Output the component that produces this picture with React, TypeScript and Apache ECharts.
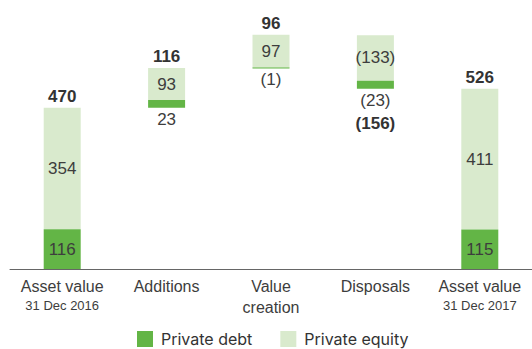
import React, { useEffect, useRef } from "react";
import * as echarts from "echarts";

const categoryNames = ["Asset value", "Additions", "Value\ncreation", "Disposals", "Asset value"];
const categoryDates = ["31 Dec 2016", "", "", "", "31 Dec 2017"];
const isTotalBar = [true, false, false, false, true];
const privateDebt = [116, 23, -1, -23, 115];
const privateEquity = [354, 93, 97, -133, 411];
const netTotals = [470, 116, 96, -156, 526];

const DARK = "#63b546";
const LIGHT = "#d9eacd";
const TEXT = "#3d3d3d";
const FONT = "Liberation Sans";

const fmt = (v: number) => (v < 0 ? `(${Math.abs(v)})` : `${v}`);

export default function App() {
  const ref = useRef<HTMLDivElement>(null);
  useEffect(() => {
    if (!ref.current) return;
    document.body.style.margin = "0";
    const chart = echarts.init(ref.current, undefined, { renderer: "svg" });

    const base: number[] = [];
    const tops: number[] = [];
    const bottoms: number[] = [];
    let running = 0;
    categoryNames.forEach((_, i) => {
      if (isTotalBar[i]) {
        base.push(0);
        bottoms.push(0);
        tops.push(netTotals[i]);
        running = netTotals[i];
      } else {
        const neg = Math.min(0, privateDebt[i]) + Math.min(0, privateEquity[i]);
        const pos = Math.max(0, privateDebt[i]) + Math.max(0, privateEquity[i]);
        base.push(running + neg);
        bottoms.push(running + neg);
        tops.push(running + pos);
        running += netTotals[i];
      }
    });

    const annotations: any[] = [];
    categoryNames.forEach((_, i) => {
      const t = netTotals[i];
      if (t >= 0) {
        annotations.push({
          value: [i, tops[i]],
          label: { show: true, position: "top", distance: 3, formatter: fmt(t), fontWeight: "bold", color: "#333" },
        });
      }
      if (!isTotalBar[i]) {
        annotations.push({
          value: [i, bottoms[i]],
          label: { show: true, position: "bottom", distance: 3, formatter: fmt(privateDebt[i]), color: TEXT },
        });
        if (t < 0) {
          annotations.push({
            value: [i, bottoms[i]],
            label: { show: true, position: "bottom", distance: 26, formatter: fmt(t), fontWeight: "bold", color: "#333" },
          });
        }
      }
    });

    chart.setOption({
      animation: false,
      textStyle: { fontFamily: FONT },
      grid: { left: 10, right: 0, top: 29, bottom: 80 },
      legend: {
        data: ["Private debt", "Private equity"],
        top: 331,
        left: 137,
        padding: 0,
        itemWidth: 16,
        itemHeight: 16,
        itemGap: 28,
        icon: "rect",
        textStyle: { fontSize: 16, color: "#333", fontFamily: "Inter", padding: [0, 0, 0, 3] },
      },
      xAxis: {
        type: "category",
        data: categoryNames.map((n, i) => n + (categoryDates[i] ? "|" + categoryDates[i] : "")),
        axisTick: { show: false },
        axisLine: { lineStyle: { color: "#666", width: 1 } },
        axisLabel: {
          margin: 7,
          interval: 0,
          formatter: (v: string) => {
            const [main, date] = v.split("|");
            const lines = main.split("\n").map((l) => `{a|${l}}`).join("\n");
            return date ? `${lines}\n{b|${date}}` : lines;
          },
          rich: {
            a: { fontSize: 16, color: TEXT, fontFamily: FONT, lineHeight: 21 },
            b: { fontSize: 13, color: TEXT, fontFamily: FONT, lineHeight: 17 },
          },
        },
      },
      yAxis: { type: "value", min: 0, max: 700, show: false, splitLine: { show: false } },
      series: [
        {
          name: "base",
          type: "bar",
          stack: "w",
          barWidth: 37,
          itemStyle: { color: "transparent" },
          data: base,
          silent: true,
        },
        {
          name: "Private debt",
          type: "bar",
          stack: "w",
          barWidth: 37,
          z: 3,
          barMinHeight: 1,
          itemStyle: { color: DARK },
          data: privateDebt.map((v, i) => ({
            value: Math.abs(v),
            label: isTotalBar[i]
              ? { show: true, position: "inside", formatter: fmt(v), fontSize: 17, color: TEXT }
              : { show: false },
          })),
        },
        {
          name: "Private equity",
          type: "bar",
          stack: "w",
          barWidth: 37,
          itemStyle: { color: LIGHT },
          label: { show: true, position: "inside", fontSize: 17, color: TEXT },
          data: privateEquity.map((v) => ({
            value: Math.abs(v),
            label: { formatter: fmt(v) },
          })),
        },
        {
          name: "labels",
          type: "scatter",
          symbolSize: 0,
          z: 5,
          itemStyle: { opacity: 1 },
          label: { fontSize: 17, fontFamily: FONT, opacity: 1 },
          data: annotations,
        },
      ],
    });
    return () => chart.dispose();
  }, []);
  return <div ref={ref} style={{ width: 532, height: 349 }} />;
}
